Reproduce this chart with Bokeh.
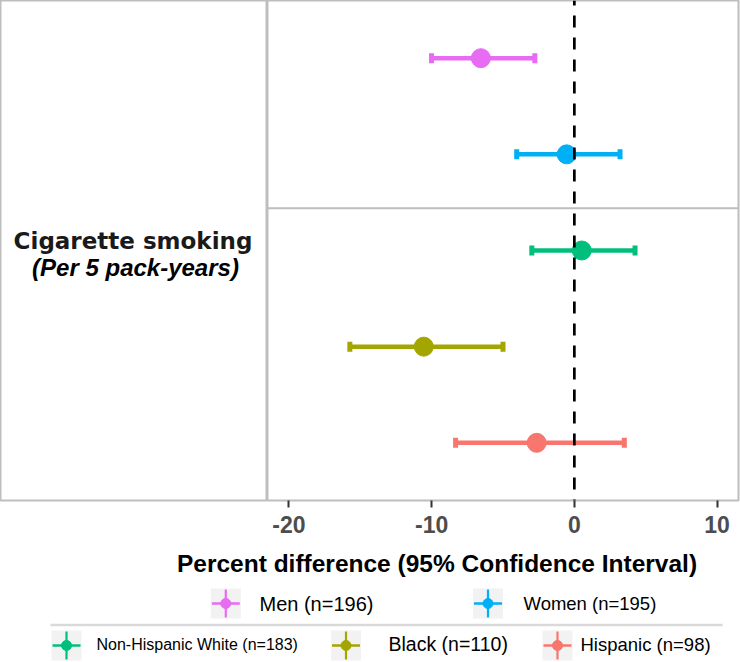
from bokeh.plotting import figure
from bokeh.models import Range1d, Span, FixedTicker, ColumnDataSource
from bokeh.layouts import column, row
from bokeh.core.properties import value
from bokeh.embed import file_html
from bokeh.resources import INLINE

# ---------------- data ----------------
groups = ["Men (n=196)", "Women (n=195)", "Non-Hispanic White (n=183)",
          "Black (n=110)", "Hispanic (n=98)"]
estimate = [-6.55, -0.54, 0.52, -10.55, -2.64]
ci_lower = [-10.01, -4.04, -2.98, -15.73, -8.32]
ci_upper = [-2.77, 3.20, 4.25, -5.00, 3.50]
group_colors = ["#E76BF3", "#00B0F6", "#00BF7D", "#A3A500", "#F8766D"]
x_ticks = [-20, -10, 0, 10]
x_tick_labels = ["-20", "-10", "0", "10"]
exposure = "Cigarette smoking"
exposure_unit = "(Per 5 pack-years)"
x_title = "Percent difference (95% Confidence Interval)"

# ---------------- layout constants ----------------
W, H = 740, 662
LEFT_W = 267
MAIN_W = W - LEFT_W
TOP_H = 542
FRAME_H = 500
BOTTOM_H = H - TOP_H
BORDER = "#BEBEBE"
FONT = "Liberation Sans"

n = len(groups)
ypos = [n - i for i in range(n)]          # Men on top, Hispanic at bottom
cap = 0.052
src = ColumnDataSource(dict(
    group=groups, est=estimate, lo=ci_lower, hi=ci_upper, y=ypos,
    y0=[v - cap for v in ypos], y1=[v + cap for v in ypos], color=group_colors))

# ---------------- main panel ----------------
p = figure(width=MAIN_W, height=TOP_H, x_range=Range1d(-21.5, 11.5),
           y_range=Range1d(0.4, n + 0.6), y_axis_location=None,
           output_backend="svg", toolbar_location=None,
           min_border_left=0, min_border_right=2, min_border_top=0,
           min_border_bottom=TOP_H - FRAME_H)
p.outline_line_color = BORDER
p.outline_line_width = 2
p.xgrid.visible = False
p.ygrid.visible = False

p.segment(x0="lo", y0="y", x1="hi", y1="y", line_color="color", line_width=4.5, source=src)
p.segment(x0="lo", y0="y0", x1="lo", y1="y1", line_color="color", line_width=5, source=src)
p.segment(x0="hi", y0="y0", x1="hi", y1="y1", line_color="color", line_width=5, source=src)
p.scatter(x="est", y="y", size=19, fill_color="color", line_color="color", source=src)

p.add_layout(Span(location=3.44, dimension="width", line_color=BORDER, line_width=2))
p.add_layout(Span(location=0, dimension="height", line_color="black",
                  line_width=2.7, line_dash="12 10", line_dash_offset=7))

ax = p.xaxis[0]
ax.ticker = FixedTicker(ticks=x_ticks)
ax.major_label_overrides = dict(zip(x_ticks, x_tick_labels))
ax.axis_line_color = None
ax.major_tick_line_color = "#333333"
ax.major_tick_line_width = 2
ax.major_tick_out = 7
ax.major_tick_in = 0
ax.minor_tick_line_color = None
ax.major_label_standoff = 8
ax.major_label_text_font = FONT
ax.major_label_text_font_style = "bold"
ax.major_label_text_font_size = "23px"
ax.major_label_text_color = "#4D4D4D"

# ---------------- left label panel ----------------
left = figure(width=LEFT_W, height=TOP_H, x_range=Range1d(0, LEFT_W),
              y_range=Range1d(FRAME_H, 0), x_axis_location=None,
              y_axis_location=None, output_backend="svg", toolbar_location=None,
              min_border_left=0, min_border_right=0, min_border_top=0,
              min_border_bottom=TOP_H - FRAME_H)
left.outline_line_color = BORDER
left.outline_line_width = 2
left.xgrid.visible = False
left.ygrid.visible = False
left.text(x=[132.5], y=[240], text=[exposure], text_align="center",
          text_baseline="middle", text_font=value("DejaVu Sans"),
          text_font_style="bold", text_font_size="23px", text_color="#1A1A1A")
left.text(x=[135], y=[267], text=[exposure_unit], text_align="center",
          text_baseline="middle", text_font=value(FONT),
          text_font_style="bold italic", text_font_size="24px", text_color="black")

# ---------------- bottom: axis title + legends ----------------
bot = figure(width=W, height=BOTTOM_H, x_range=Range1d(0, W),
             y_range=Range1d(H, TOP_H), x_axis_location=None,
             y_axis_location=None, output_backend="svg", toolbar_location=None,
             min_border=0)
bot.outline_line_color = None
bot.xgrid.visible = False
bot.ygrid.visible = False

bot.text(x=[436.5], y=[563], text=[x_title], text_align="center",
         text_baseline="middle", text_font=value(FONT), text_font_style="bold",
         text_font_size="24.5px", text_color="black")

key_x = [225.3, 487.5, 66, 345.5, 557]
key_y = [603, 603, 645, 645, 645]
lab_x = [259, 523, 96, 388, 580]
lab_y = [603, 603, 643.5, 643.5, 643.5]
lab_size = ["20px", "18.5px", "16px", "19.5px", "18.5px"]
half = 14
leg = ColumnDataSource(dict(
    kx=key_x, ky=key_y, kx0=[v - half for v in key_x], kx1=[v + half for v in key_x],
    ky0=[v - half for v in key_y], ky1=[v + half for v in key_y],
    tx=lab_x, ty=lab_y, label=groups, size=lab_size, color=group_colors))

bot.segment(x0=[50], y0=[624.5], x1=[722], y1=[624.5], line_color="#D9D9D9", line_width=2.5)
bot.rect(x="kx", y="ky", width=30, height=30, width_units="screen", height_units="screen",
         fill_color="#F2F2F2", line_color=None, source=leg)
bot.segment(x0="kx0", y0="ky", x1="kx1", y1="ky", line_color="color", line_width=2.5, source=leg)
bot.segment(x0="kx", y0="ky0", x1="kx", y1="ky1", line_color="color", line_width=2.2, source=leg)
bot.scatter(x="kx", y="ky", size=10, fill_color="color", line_color="color", source=leg)
bot.text(x="tx", y="ty", text="label", text_font=value(FONT), text_font_size="size",
         text_baseline="middle", text_align="left", text_color="black", source=leg)

layout = column(row(left, p), bot)
open("out.html", "w").write(file_html(layout, INLINE, title="Forest plot"))
